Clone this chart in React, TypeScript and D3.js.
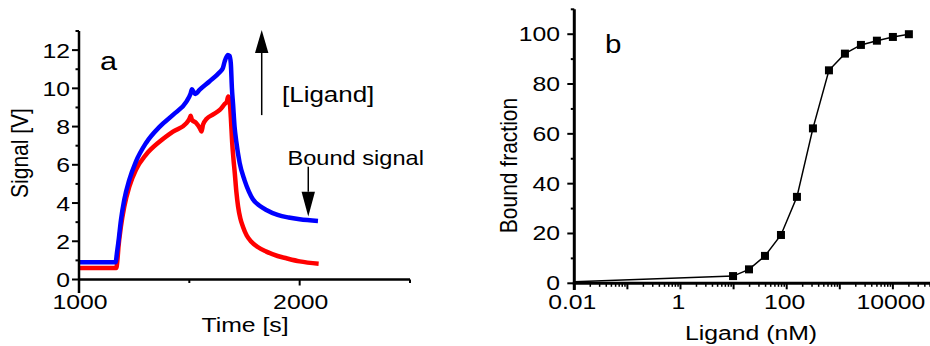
import React from "react";
import * as d3 from "d3";

// Panel a data: time (s) and signals (V)
const blueTime = [1000, 1166, 1172, 1178, 1190, 1205, 1228, 1258, 1303, 1366, 1426, 1487, 1505, 1512, 1520, 1528, 1546, 1591, 1636, 1652, 1660, 1674, 1682, 1688, 1693, 1698, 1705, 1713, 1728, 1750, 1770, 1788, 1820, 1849, 1900, 1950, 2000, 2083];
const blueSignal = [0.9, 0.9, 1.4, 1.9, 3.1, 4.16, 5.21, 6.17, 7.13, 8.0, 8.61, 9.31, 9.7, 9.95, 9.8, 9.71, 9.92, 10.36, 10.83, 11.06, 11.4, 11.75, 11.7, 11.3, 10.0, 9.2, 8.0, 7.2, 6.1, 5.2, 4.6, 4.2, 3.85, 3.64, 3.38, 3.24, 3.15, 3.06];
const redTime = [1000, 1169, 1174, 1179, 1190, 1205, 1228, 1258, 1303, 1366, 1426, 1487, 1500, 1506, 1512, 1530, 1548, 1555, 1562, 1578, 1610, 1638, 1661, 1670, 1676, 1682, 1688, 1694, 1700, 1706, 1713, 1721, 1731, 1743, 1760, 1781, 1810, 1849, 1900, 1940, 2000, 2086];
const redSignal = [0.6, 0.6, 1.0, 1.72, 2.77, 3.8, 4.86, 5.74, 6.52, 7.22, 7.74, 8.18, 8.4, 8.56, 8.35, 8.2, 7.9, 7.74, 8.1, 8.4, 8.65, 8.87, 9.19, 9.3, 9.57, 9.4, 8.5, 7.2, 6.3, 5.56, 4.6, 3.81, 3.2, 2.76, 2.3, 1.98, 1.7, 1.46, 1.23, 1.11, 0.95, 0.83];
const aYTicks = [0, 2, 4, 6, 8, 10, 12];
const aYMinor = [1, 3, 5, 7, 9, 11, 13];
const aXTicks = [1000, 2000];
const aXMinor = [1500, 2500];

// Panel b data: ligand (nM) and bound fraction
const ligand = [0.01, 9.77, 19.5, 39, 78, 156, 312, 625, 1250, 2500, 5000, 10000, 20000];
const bound = [0.6, 2.9, 5.6, 11.0, 19.4, 34.7, 62.2, 85.5, 92.2, 95.7, 97.4, 98.9, 100];
const bYTicks = [0, 20, 40, 60, 80, 100];
const bYMinor = [10, 30, 50, 70, 90, 110];
const bXTicks = [0.01, 1, 100, 10000];
const bXTickLabels = ["0.01", "1", "100", "10000"];

const SX = 1.18;
const FONT = "'Liberation Sans', Arial, sans-serif";

function Txt({ x, y, size, anchor = "start", rotate = false, children }: any) {
  return (
    <text
      transform={`translate(${x},${y}) scale(${SX},1)${rotate ? " rotate(-90)" : ""}`}
      fontSize={size}
      fontFamily={FONT}
      textAnchor={anchor}
      fill="#000"
    >
      {children}
    </text>
  );
}

export default function App() {
  // Panel a scales
  const ax = d3.scaleLinear().domain([1000, 2500]).range([79, 410]);
  const ay = d3.scaleLinear().domain([0, 13]).range([279.5, 31]);
  // Panel b scales
  const bx = d3.scaleLog().domain([0.01, 50000]).range([574.3, 930]);
  const by = d3.scaleLinear().domain([0, 110]).range([283.3, 9.3]);

  const lineA = d3
    .line<[number, number]>()
    .x((d) => ax(d[0]))
    .y((d) => ay(d[1]))
    .curve(d3.curveMonotoneX);
  const blueD = lineA(blueTime.map((t, i) => [t, blueSignal[i]]) as [number, number][]) || "";
  const redD = lineA(redTime.map((t, i) => [t, redSignal[i]]) as [number, number][]) || "";

  const lineB = d3
    .line<[number, number]>()
    .x((d) => bx(d[0]))
    .y((d) => by(d[1]));
  const bPts = ligand.map((l, i) => [l, bound[i]] as [number, number]);
  const bD = lineB(bPts) || "";

  // log minor ticks
  const bMinor: number[] = [];
  for (let e = -2; e <= 4; e++) {
    for (let m = 2; m <= 9; m++) {
      const v = m * Math.pow(10, e);
      if (v <= 50000) bMinor.push(v);
    }
  }
  const bDecades = [0.01, 0.1, 1, 10, 100, 1000, 10000];

  // annotation positions (data coords)
  const upX = ax(1828);
  const upTop = ay(13.05);
  const upBase = ay(11.85);
  const upBottom = ay(8.6);
  const dnX = ax(2039);
  const dnTop = ay(5.9);
  const dnBase = ay(4.59);
  const dnTip = ay(3.3);

  return (
    <svg
      width={930}
      height={346}
      style={{ position: "absolute", left: 0, top: 0, background: "#fff" }}
    >
      <rect x={0} y={0} width={930} height={346} fill="#fff" />
      {/* Panel a */}
      <g>
        <path d={redD} fill="none" stroke="#ff0000" strokeWidth={4.5} strokeLinejoin="round" />
        <path d={blueD} fill="none" stroke="#0000ff" strokeWidth={4.5} strokeLinejoin="round" />
        {/* axes */}
        <line x1={ax(1000)} x2={ax(1000)} y1={ay(13)} y2={293} stroke="#000" strokeWidth={2.5} />
        <line x1={ax(1000) - 1} x2={ax(2500)} y1={ay(0)} y2={ay(0)} stroke="#000" strokeWidth={2.5} />
        {aYTicks.map((v) => (
          <g key={"ayt" + v}>
            <line x1={ax(1000) - 7} x2={ax(1000)} y1={ay(v)} y2={ay(v)} stroke="#000" strokeWidth={2} />
            <Txt x={70} y={ay(v) + 7.5} size={21} anchor="end">
              {v}
            </Txt>
          </g>
        ))}
        {aYMinor.map((v) => (
          <line key={"aym" + v} x1={ax(1000) - 3.5} x2={ax(1000)} y1={ay(v)} y2={ay(v)} stroke="#000" strokeWidth={2} />
        ))}
        {aXTicks.map((v) => (
          <g key={"axt" + v}>
            <line x1={ax(v)} x2={ax(v)} y1={ay(0)} y2={ay(0) + 6} stroke="#000" strokeWidth={2} />
            <Txt x={ax(v) + 1} y={309} size={21} anchor="middle">
              {v}
            </Txt>
          </g>
        ))}
        {aXMinor.map((v) => (
          <line key={"axm" + v} x1={ax(v)} x2={ax(v)} y1={ay(0)} y2={ay(0) + 3.5} stroke="#000" strokeWidth={2} />
        ))}
        <Txt x={245} y={332} size={21} anchor="middle">
          Time [s]
        </Txt>
        <Txt x={28} y={153} size={21} anchor="middle" rotate>
          Signal [V]
        </Txt>
        <Txt x={100} y={70} size={26}>
          a
        </Txt>
        {/* up arrow */}
        <line x1={upX} x2={upX} y1={upBottom} y2={upBase} stroke="#000" strokeWidth={1.5} />
        <path d={`M${upX},${upTop} L${upX - 6.7},${upBase} L${upX + 6.7},${upBase} Z`} fill="#000" />
        <Txt x={282} y={101.5} size={22}>
          [Ligand]
        </Txt>
        {/* down arrow */}
        <Txt x={287.5} y={165} size={20}>
          Bound signal
        </Txt>
        <line x1={dnX} x2={dnX} y1={dnTop} y2={dnBase} stroke="#000" strokeWidth={1.5} />
        <path d={`M${dnX},${dnTip} L${dnX - 6.7},${dnBase} L${dnX + 6.7},${dnBase} Z`} fill="#000" />
      </g>

      {/* Panel b */}
      <g>
        <path d={bD} fill="none" stroke="#000" strokeWidth={1.5} />
        {bPts.slice(1).map((p, i) => (
          <rect key={"m" + i} x={bx(p[0]) - 4} y={by(p[1]) - 4} width={8} height={8} fill="#000" />
        ))}
        <line x1={bx(0.01)} x2={bx(0.01)} y1={by(110)} y2={290} stroke="#000" strokeWidth={3} />
        <line x1={bx(0.01) - 1.5} x2={930} y1={by(0)} y2={by(0)} stroke="#000" strokeWidth={3} />
        {bYTicks.map((v) => (
          <g key={"byt" + v}>
            <line x1={bx(0.01) - 7} x2={bx(0.01)} y1={by(v)} y2={by(v)} stroke="#000" strokeWidth={2} />
            <Txt x={560} y={by(v) + 7} size={21} anchor="end">
              {v}
            </Txt>
          </g>
        ))}
        {bYMinor.map((v) => (
          <line key={"bym" + v} x1={bx(0.01) - 3.5} x2={bx(0.01)} y1={by(v)} y2={by(v)} stroke="#000" strokeWidth={2} />
        ))}
        {bDecades.map((v) => (
          <line key={"bxd" + v} x1={bx(v)} x2={bx(v)} y1={by(0)} y2={by(0) + 6} stroke="#000" strokeWidth={2} />
        ))}
        {bMinor.map((v) => (
          <line key={"bxm" + v} x1={bx(v)} x2={bx(v)} y1={by(0)} y2={by(0) + 3.5} stroke="#000" strokeWidth={1.5} />
        ))}
        {bXTicks.map((v, i) => (
          <Txt key={"bxl" + v} x={bx(v) - 2} y={309} size={21} anchor="middle">
            {bXTickLabels[i]}
          </Txt>
        ))}
        <Txt x={751} y={340} size={21} anchor="middle">
          Ligand (nM)
        </Txt>
        <Txt x={517} y={165.5} size={21} anchor="middle" rotate>
          Bound fraction
        </Txt>
        <Txt x={605} y={53} size={25}>
          b
        </Txt>
      </g>
    </svg>
  );
}
